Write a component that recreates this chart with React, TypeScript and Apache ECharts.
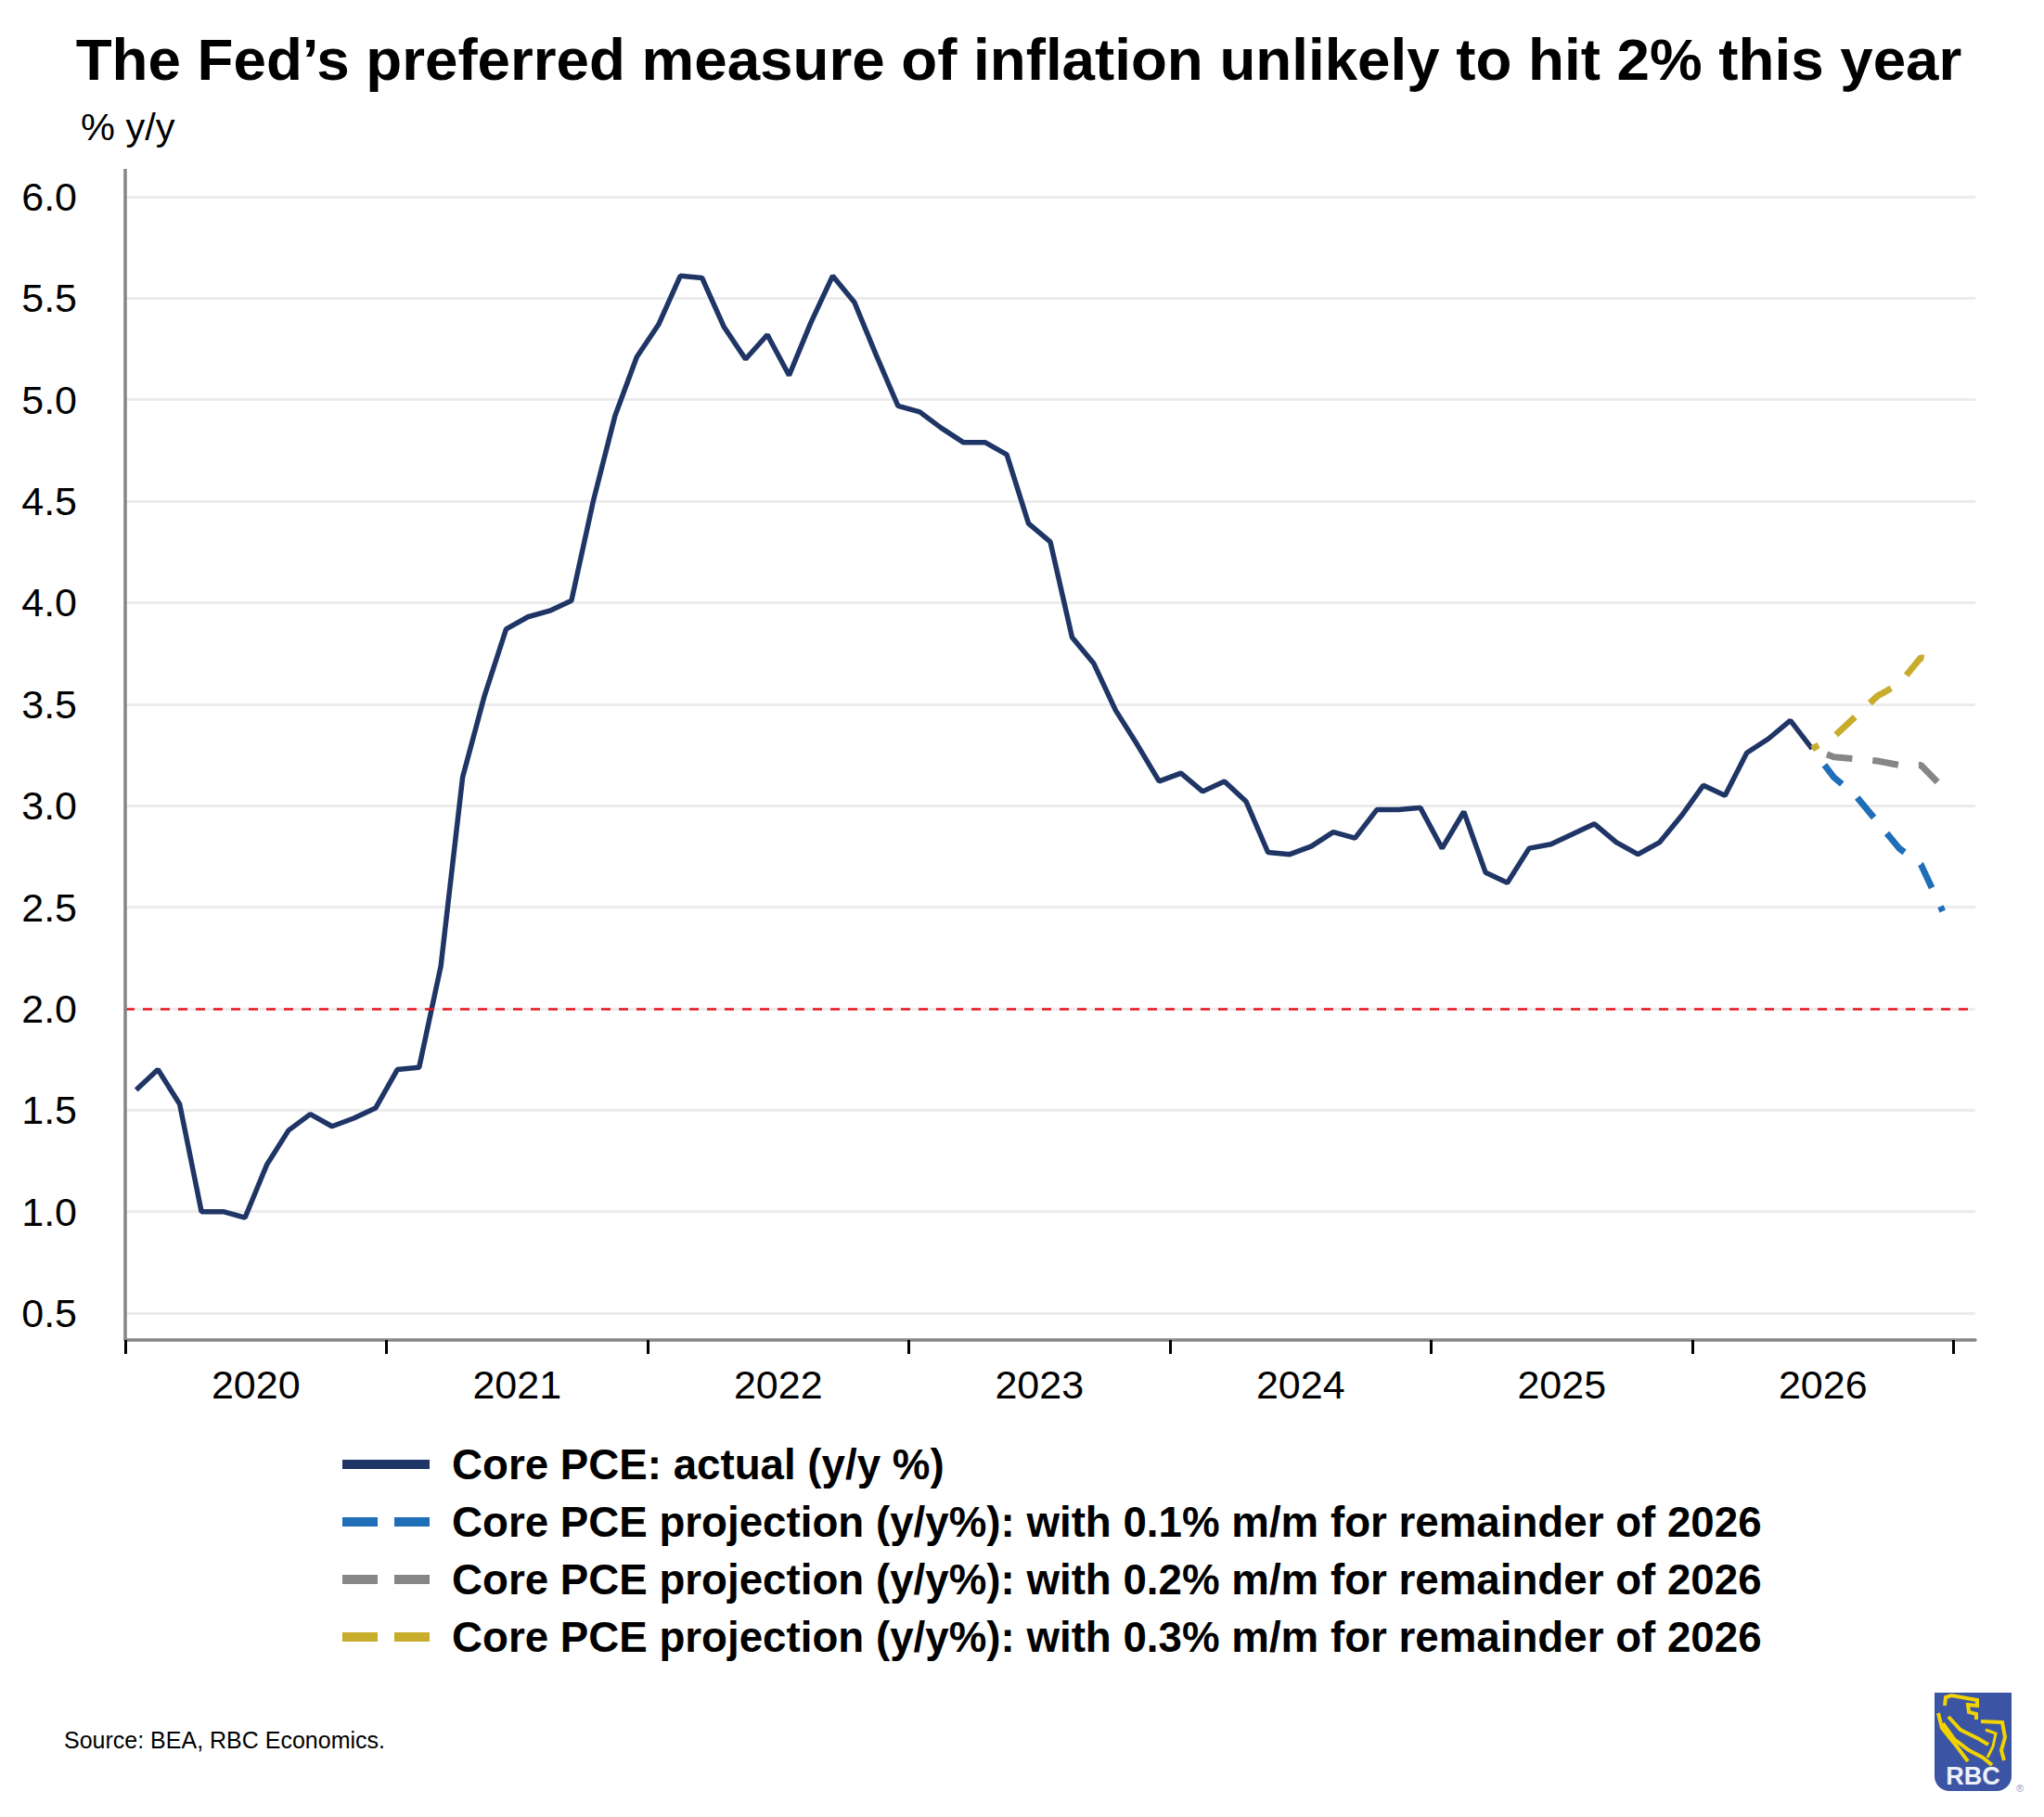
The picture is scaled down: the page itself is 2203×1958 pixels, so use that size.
import React, { useEffect, useRef } from 'react';
import * as echarts from 'echarts';

// Core PCE y/y, monthly from Jan 2020 to Jun 2026
const actual = [
  1.6, 1.7, 1.53, 1.0, 1.0, 0.97, 1.23, 1.4, 1.48, 1.42, 1.46, 1.51,
  1.7, 1.71, 2.21, 3.14, 3.54, 3.87, 3.93, 3.96, 4.01, 4.5, 4.92, 5.21,
  5.37, 5.61, 5.6, 5.36, 5.2, 5.32, 5.12, 5.38, 5.61, 5.48, 5.22, 4.97,
  4.94, 4.86, 4.79, 4.79, 4.73, 4.39, 4.3, 3.83, 3.7, 3.47, 3.3, 3.12,
  3.16, 3.07, 3.12, 3.02, 2.77, 2.76, 2.8, 2.87, 2.84, 2.98, 2.98, 2.99,
  2.79, 2.97, 2.67, 2.62, 2.79, 2.81, 2.86, 2.91, 2.82, 2.76, 2.82, 2.95,
  3.1, 3.05, 3.26, 3.33, 3.42, 3.28,
];

// projections start from the last actual month (Jun 2026)
const projStart = 77;
const proj01 = [3.28, 3.14, 3.05, 2.92, 2.79, 2.71, 2.48];
const proj02 = [3.28, 3.24, 3.23, 3.22, 3.2, 3.2, 3.09];
const proj03 = [3.28, 3.34, 3.44, 3.54, 3.6, 3.73, 3.7];

const years = ['2020', '2021', '2022', '2023', '2024', '2025', '2026'];
const target = 2;

const names = [
  'Core PCE: actual (y/y %)',
  'Core PCE projection (y/y%): with 0.1% m/m for remainder of 2026',
  'Core PCE projection (y/y%): with 0.2% m/m for remainder of 2026',
  'Core PCE projection (y/y%): with 0.3% m/m for remainder of 2026',
];

const FONT = "'Liberation Sans', Arial, sans-serif";
const solidIcon = 'path://M0,0H94V10H0Z';
const dashIcon = 'path://M0,0H38V10H0ZM56,0H94V10H56Z';

const toPoints = (vals: number[], start: number) => vals.map((v, k) => [start + k + 0.5, v]);

const App: React.FC = () => {
  const chartRef = useRef<HTMLDivElement | null>(null);

  useEffect(() => {
    document.body.style.margin = '0';
    if (!chartRef.current) return;
    const chart = echarts.init(chartRef.current, null, { renderer: 'svg' });

    const dashed = (color: string, offset: number) => ({
      color,
      width: 7,
      type: [28, 22],
      dashOffset: offset,
    });

    const option = {
      animation: false,
      backgroundColor: '#fff',
      title: {
        text: 'The Fed’s preferred measure of inflation unlikely to hit 2% this year',
        left: 1093,
        top: 26,
        textAlign: 'center',
        textStyle: { fontFamily: FONT, fontSize: 63.7, fontWeight: 'bold', color: '#000' },
      },
      grid: { left: 135, right: 74, top: 212, bottom: 543, containLabel: false },
      legend: {
        orient: 'vertical',
        left: 369,
        top: 1553,
        padding: 0,
        itemWidth: 94,
        itemHeight: 10,
        itemGap: 12,
        selectedMode: false,
        itemStyle: { borderWidth: 0 },
        textStyle: {
          fontFamily: FONT,
          fontSize: 45.7,
          fontWeight: 'bold',
          color: '#000',
          lineHeight: 50,
          padding: [0, 0, 0, 19],
        },
        data: [
          { name: names[0], icon: solidIcon },
          { name: names[1], icon: dashIcon },
          { name: names[2], icon: dashIcon },
          { name: names[3], icon: dashIcon },
        ],
      },
      xAxis: {
        type: 'value',
        min: 0,
        max: 85,
        offset: 29,
        axisLine: { show: true, lineStyle: { color: '#858585', width: 3.5 } },
        axisTick: {
          show: true,
          length: 15,
          lineStyle: { color: '#000', width: 3 },
          customValues: [...years.map((_, k) => k * 12), years.length * 12],
        },
        axisLabel: {
          customValues: years.map((_, k) => k * 12 + 6),
          formatter: (v: number) => years[Math.round((v - 6) / 12)] ?? '',
          fontFamily: FONT,
          fontSize: 43,
          color: '#000',
          margin: 26,
        },
        splitLine: { show: false },
      },
      yAxis: {
        type: 'value',
        min: 0.5,
        max: 6,
        interval: 0.5,
        axisLine: { show: false },
        axisTick: { show: false },
        axisLabel: {
          formatter: (v: number) => v.toFixed(1),
          fontFamily: FONT,
          fontSize: 43,
          color: '#000',
          margin: 52,
        },
        splitLine: { show: true, lineStyle: { color: '#ececec', width: 3 } },
      },
      series: [
        {
          name: names[0],
          type: 'line',
          data: toPoints(actual, 0),
          symbol: 'none',
          color: '#1f3566',
          lineStyle: { color: '#1f3566', width: 5.5 },
          z: 3,
          markLine: {
            silent: true,
            symbol: 'none',
            label: { show: false },
            lineStyle: { color: '#e8141c', width: 2.5, type: [10, 9] },
            data: [{ yAxis: target }],
          },
        },
        {
          name: names[1],
          type: 'line',
          data: toPoints(proj01, projStart),
          symbol: 'none',
          color: '#1f6eb8',
          lineStyle: dashed('#1f6eb8', 28),
          z: 4,
        },
        {
          name: names[2],
          type: 'line',
          data: toPoints(proj02, projStart),
          symbol: 'none',
          color: '#868686',
          lineStyle: dashed('#868686', 33),
          z: 4,
        },
        {
          name: names[3],
          type: 'line',
          data: toPoints(proj03, projStart),
          symbol: 'none',
          color: '#c8ac2c',
          lineStyle: dashed('#c8ac2c', 20),
          z: 5,
        },
      ],
      graphic: [
        {
          type: 'line',
          shape: { x1: 135, y1: 182, x2: 135, y2: 1444 },
          style: { stroke: '#858585', lineWidth: 3.5 },
          z: 10,
        },
        {
          type: 'text',
          left: 87,
          top: 115,
          style: { text: '% y/y', font: `41.5px ${FONT}`, fill: '#000' },
        },
        {
          type: 'text',
          left: 69,
          top: 1862,
          style: { text: 'Source: BEA, RBC Economics.', font: `25px ${FONT}`, fill: '#000' },
        },
        {
          type: 'group',
          x: 2085,
          y: 1824,
          children: [
            {
              type: 'rect',
              shape: { x: 0, y: 0, width: 83, height: 106, r: [0, 0, 16, 16] },
              style: { fill: '#3b55a4' },
            },
            {
              type: 'polyline',
              shape: { points: [[11, 14], [12, 5], [18, 3], [46, 8], [46, 14], [36, 13], [37, 21], [45, 23], [45, 29]] },
              style: { stroke: '#f2d300', lineWidth: 4, fill: null },
            },
            {
              type: 'polyline',
              shape: { points: [[4, 22], [8, 38], [24, 58], [36, 74]] },
              style: { stroke: '#f2d300', lineWidth: 4, fill: null },
            },
            {
              type: 'polyline',
              shape: { points: [[9, 33], [21, 50], [37, 62], [52, 70], [62, 78]] },
              style: { stroke: '#f2d300', lineWidth: 4, fill: null },
            },
            {
              type: 'polyline',
              shape: { points: [[15, 26], [28, 40], [48, 50], [58, 56]] },
              style: { stroke: '#f2d300', lineWidth: 4, fill: null },
            },
            {
              type: 'polyline',
              shape: { points: [[50, 31], [73, 32], [76, 48], [72, 62], [75, 73]] },
              style: { stroke: '#f2d300', lineWidth: 4, fill: null },
            },
            {
              type: 'polyline',
              shape: { points: [[55, 40], [66, 44], [63, 58], [57, 70]] },
              style: { stroke: '#f2d300', lineWidth: 3, fill: null },
            },
            {
              type: 'text',
              x: 41.5,
              y: 90,
              style: {
                text: 'RBC',
                font: `bold 27px ${FONT}`,
                fill: '#eef1fa',
                textAlign: 'center',
                textVerticalAlign: 'middle',
              },
            },
            {
              type: 'text',
              x: 92,
              y: 103,
              style: { text: '®', font: `11px ${FONT}`, fill: '#8a9ccc', textAlign: 'center', textVerticalAlign: 'middle' },
            },
          ],
        },
      ],
    };

    chart.setOption(option as any);

    return () => {
      chart.dispose();
    };
  }, []);

  return <div ref={chartRef} style={{ width: '2203px', height: '1958px' }} />;
};

export default App;
